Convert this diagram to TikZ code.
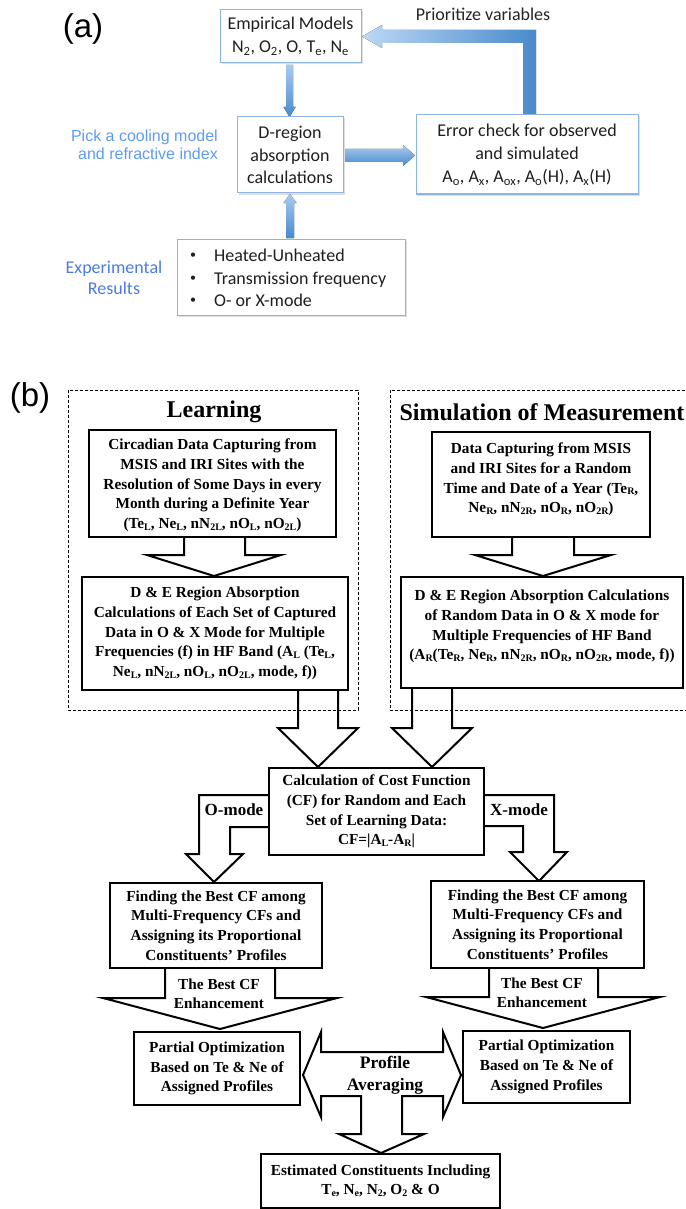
\documentclass[tikz,border=0pt]{standalone}
\usepackage{fontspec}
\setmainfont{Liberation Serif}
\newfontfamily\tnr{Liberation Serif}
\newfontfamily\cfont{Carlito}
\newfontfamily\afont{Liberation Sans}
\usetikzlibrary{shadows}
\pgfdeclarelayer{background}
\pgfsetlayers{background,main}
\definecolor{abord}{HTML}{8EB4E3}
\definecolor{alight}{HTML}{A9CBF0}
\definecolor{adark}{HTML}{4A8ACB}
\definecolor{flight}{HTML}{BCD8F5}
\definecolor{pickblue}{HTML}{5E9CF2}
\definecolor{expblue}{HTML}{4C7BE6}
\newcommand\sbs[1]{\raisebox{-0.25ex}{\fontsize{10}{10}\selectfont #1}}
\newcommand\smbul{\makebox[24pt][l]{\raisebox{0.35ex}{\fontsize{12}{12}\selectfont •}}}
\begin{document}
\begin{tikzpicture}[x=1pt,y=-1pt,
  abox/.style={draw=abord, line width=1pt, fill=white, inner sep=0pt, align=center,
    font=\cfont\fontsize{18}{23}\selectfont, text=black!88,
    drop shadow={opacity=0.25,shadow xshift=1.5pt,shadow yshift=-1.5pt}},
  bbox/.style={draw=black, line width=2.3pt, fill=white, inner sep=0pt, align=center,
    font=\tnr\bfseries\fontsize{15.3}{19.7}\selectfont},
  btxt/.style={inner sep=0pt, align=center, font=\tnr\bfseries\fontsize{15.3}{19.7}\selectfont},
  dbox/.style={draw=black, line width=0.9pt, dash pattern=on 3pt off 2pt, inner sep=0pt},
  barrow/.style={draw=black, line width=2pt, fill=white, line join=miter},
  varrow/.style={top color=alight, bottom color=adark, draw=none},
  lbl/.style={font=\tnr\bfseries\fontsize{17}{22}\selectfont, align=center, inner sep=0pt},
  ttl/.style={font=\tnr\bfseries\fontsize{24}{28}\selectfont, inner sep=0pt},
  plabel/.style={font=\afont\fontsize{33}{33}\selectfont, inner sep=0pt}
]
\useasboundingbox (0,0) rectangle (685,1209);
\begin{pgfonlayer}{background}
\fill[white] (0,0) rectangle (685,1209);
\end{pgfonlayer}

% ---------------- (a) ----------------
\node[plabel] (la) at (83,29) {(a)};
\node[abox, minimum width=141pt, minimum height=53pt] (emp) at (290.5,36.5)
  {Empirical Models\\N\textsubscript{2}, O\textsubscript{2}, O, T\textsubscript{e}, N\textsubscript{e}};
\node[abox, minimum width=106pt, minimum height=76pt, font=\cfont\fontsize{18}{22.5}\selectfont] (dreg) at (290,155)
  {D-region\\absorption\\calculations};
\node[abox, minimum width=222pt, minimum height=79pt] (err) at (527,154.5)
  {Error check for observed\\and simulated\\A\textsubscript{o}, A\textsubscript{x}, A\textsubscript{ox}, A\textsubscript{o}(H), A\textsubscript{x}(H)};
\node[abox, minimum width=228pt, minimum height=76pt] (exp) at (291,277) {};
\node[anchor=west, align=left, font=\cfont\fontsize{18}{22.5}\selectfont, inner sep=0pt, text=black!88] (expt) at (190,278)
  {\smbul Heated-Unheated\\\smbul Transmission frequency\\\smbul O- or X-mode};
\node[font=\afont\fontsize{16}{18}\selectfont, text=pickblue, align=right, anchor=east, inner sep=0pt] (pick) at (218,145)
  {Pick a cooling model\\and refractive index};
\node[font=\cfont\fontsize{18}{21}\selectfont, text=expblue, align=center, inner sep=0pt] (expl) at (114,277.5)
  {Experimental\\Results};
\node[font=\cfont\fontsize{18}{20}\selectfont, text=black!85, inner sep=0pt] (prio) at (483,14) {Prioritize variables};

\begin{pgfonlayer}{background}
% emp -> dreg
\fill[varrow] (286,65) -- (293,65) -- (293,107) -- (295.5,107) -- (289.5,117) -- (283.5,107) -- (286,107) -- cycle;
% exp -> dreg
\fill[varrow] (286,238) -- (294,238) -- (294,203) -- (296.5,203) -- (290,194) -- (283.5,203) -- (286,203) -- cycle;
% dreg -> err
\fill[varrow] (345,149) -- (403,149) -- (403,145) -- (415,155.5) -- (403,166) -- (403,162) -- (345,162) -- cycle;
% err -> emp (feedback)
\fill[left color=flight, right color=adark] (536,115) -- (536,30) -- (382,30) -- (382,25) -- (362,36.5) -- (382,48) -- (382,43) -- (523,43) -- (523,115) -- cycle;
\end{pgfonlayer}

% ---------------- (b) ----------------
\node[plabel] (lb) at (30,398) {(b)};
\node[ttl] (lt) at (214,412) {Learning};
\node[ttl] (st) at (542,412) {Simulation of Measurement};

\node[bbox, minimum width=247pt, minimum height=107pt] (L1) at (212.5,483.5) {};
\node[btxt] (L1t) at ([yshift=-2pt]L1.center)
  {Circadian Data Capturing from\\MSIS and IRI Sites with the\\Resolution of Some Days in every\\Month during a Definite Year\\(Te\sbs{L}, Ne\sbs{L}, nN\sbs{2L}, nO\sbs{L}, nO\sbs{2L})};
\node[bbox, minimum width=266pt, minimum height=113pt] (L2) at (215,633.5) {};
\node[btxt] (L2t) at (L2.center)
  {D \& E Region Absorption\\Calculations of Each Set of Captured\\Data in O \& X Mode for Multiple\\Frequencies (f) in HF Band (A\sbs{L} (Te\sbs{L},\\Ne\sbs{L}, nN\sbs{2L}, nO\sbs{L}, nO\sbs{2L}, mode, f))};
\node[bbox, minimum width=218pt, minimum height=105pt] (S1) at (541,484.5) {};
\node[btxt] (S1t) at ([yshift=5pt]S1.center)
  {Data Capturing from MSIS\\and IRI Sites for a Random\\Time and Date of a Year (Te\sbs{R},\\Ne\sbs{R}, nN\sbs{2R}, nO\sbs{R}, nO\sbs{2R})};
\node[bbox, minimum width=282pt, minimum height=111pt] (S2) at (542,632.5) {};
\node[btxt] (S2t) at ([yshift=6pt]S2.center)
  {D \& E Region Absorption Calculations\\of Random Data in O \& X mode for\\Multiple Frequencies of HF Band\\(A\sbs{R}(Te\sbs{R}, Ne\sbs{R}, nN\sbs{2R}, nO\sbs{R}, nO\sbs{2R}, mode, f))};
\node[bbox, minimum width=215pt, minimum height=87pt] (CF) at (376.5,811.5)
  {Calculation of Cost Function\\(CF) for Random and Each\\Set of Learning Data:\\CF=|A\sbs{L}-A\sbs{R}|};
\node[bbox, minimum width=212pt, minimum height=85pt] (LF) at (216,925.5)
  {Finding the Best CF among\\Multi-Frequency CFs and\\Assigning its Proportional\\Constituents’ Profiles};
\node[bbox, minimum width=213pt, minimum height=87pt] (RF) at (537.5,924.5)
  {Finding the Best CF among\\Multi-Frequency CFs and\\Assigning its Proportional\\Constituents’ Profiles};
\node[bbox, minimum width=166pt, minimum height=73pt] (LP) at (217,1068.5)
  {Partial Optimization\\Based on Te \& Ne of\\Assigned Profiles};
\node[bbox, minimum width=167pt, minimum height=72pt] (RP) at (546.5,1067)
  {Partial Optimization\\Based on Te \& Ne of\\Assigned Profiles};
\node[bbox, minimum width=239pt, minimum height=54pt] (est) at (380.5,1181)
  {Estimated Constituents Including\\T\sbs{e}, N\sbs{e}, N\sbs{2}, O\sbs{2} \& O};

\begin{pgfonlayer}{background}
% L1 -> L2
\filldraw[barrow] (184,537) -- (184,555) -- (147,555) -- (214,576) -- (281,555) -- (245,555) -- (245,537);
% S1 -> S2
\filldraw[barrow] (512,537) -- (512,555) -- (475,555) -- (543,576) -- (611,555) -- (574,555) -- (574,537);
% L2 -> CF
\filldraw[barrow] (298,690) -- (298,728) -- (278,728) -- (318,767) -- (358,728) -- (338,728) -- (338,690);
% S2 -> CF
\filldraw[barrow] (412,688) -- (412,728) -- (392,728) -- (432,767) -- (472,728) -- (452,728) -- (452,688);
% CF -> LF (O-mode)
\filldraw[barrow] (269,795) -- (199,795) -- (199,854) -- (186,854) -- (214,882) -- (243,854) -- (230,854) -- (230,827) -- (269,827);
% CF -> RF (X-mode)
\filldraw[barrow] (484,795) -- (554,795) -- (554,852) -- (567,852) -- (539,881) -- (510,852) -- (523,852) -- (523,826) -- (484,826);
% LF -> LP
\filldraw[barrow] (165,968) -- (165,998) -- (103,998) -- (220,1029) -- (337,998) -- (275,998) -- (275,968);
% RF -> RP
\filldraw[barrow] (489,968) -- (489,997) -- (426,997) -- (543,1028) -- (660,997) -- (598,997) -- (598,968);
% Profile averaging
\filldraw[barrow] (303,1075) -- (321,1032) -- (321,1052) -- (443,1052) -- (443,1032) -- (461,1075) -- (443,1117)
  -- (443,1096) -- (402,1096) -- (402,1134) -- (424,1134) -- (381,1153) -- (339,1134) -- (361,1134)
  -- (361,1096) -- (321,1096) -- (321,1117) -- cycle;
\end{pgfonlayer}

\draw[dbox] (68,390) rectangle (358,710);
\draw[dbox] (390,390) rectangle (690,710);

\node[lbl] (om) at (234,810) {O-mode};
\node[lbl] (xm) at (519,810) {X-mode};
\node[font=\tnr\bfseries\fontsize{15.3}{19}\selectfont, align=center, inner sep=0pt] (le) at (219,993.5) {The Best CF\\Enhancement};
\node[font=\tnr\bfseries\fontsize{15.3}{19}\selectfont, align=center, inner sep=0pt] (re) at (542,992.5) {The Best CF\\Enhancement};
\node[font=\tnr\bfseries\fontsize{17.5}{22}\selectfont, align=center, inner sep=0pt] (pa) at (385,1075) {Profile\\Averaging};
\end{tikzpicture}
\end{document}
